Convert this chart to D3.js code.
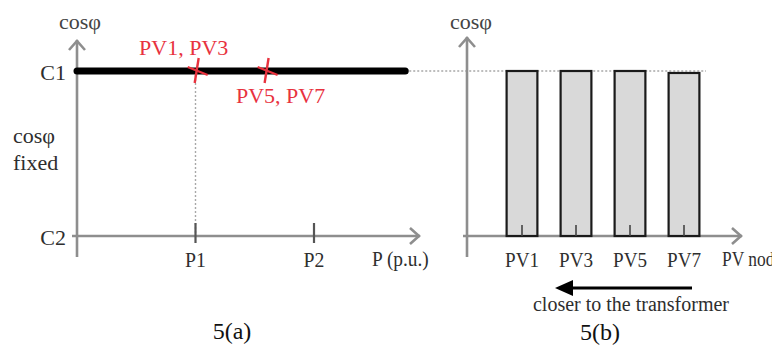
<!DOCTYPE html>
<html>
<head>
<meta charset="utf-8">
<script src="https://cdn.jsdelivr.net/npm/d3@7"></script>
<style>
  html, body { margin: 0; padding: 0; background: #fff; }
  svg { display: block; }
  text { font-family: "Liberation Serif", "Times New Roman", serif; }
</style>
</head>
<body>
<svg id="chart" width="772" height="347"></svg>
<script>
// ---- data ----
// Panel (a): fixed power factor versus active power (p.u.)
const pTicks = [1, 2];
const pTickLabels = ["P1", "P2"];
const cosLevels = [1, 0];            // C1 (top), C2 (bottom)
const cosLabels = ["C1", "C2"];
const fixedLineP = [0, 2.77];        // extent of the constant cosφ = C1 line
const markerP = [1.01, 1.6];         // operating points of the PV groups
const markerLabels = ["PV1, PV3", "PV5, PV7"];

// Panel (b): power factor at each PV node
const pvNodes = ["PV1", "PV3", "PV5", "PV7"];
const pvCos = [1, 1, 1, 0.988];

// ---- layout ----
const svg = d3.select("#chart");
const axisColor = "#8e8e8e";
const textColor = "#2e2e2e";
const red = "#e8323e";
const baseY = 236, topY = 71;

const y = d3.scaleLinear().domain([0, 1]).range([baseY, topY]);
const xA = d3.scaleLinear().domain([0, 2]).range([77, 314]);
const xB = d3.scaleBand().domain(pvNodes).range([495, 711])
  .paddingInner(0.43).paddingOuter(0.215);

// text helper: narrow serif labels are drawn with a horizontal squeeze
function label(g, x, yy, txt, opts = {}) {
  const { size = 22, anchor = "start", sx = 1, fill = textColor } = opts;
  return g.append("text")
    .attr("transform", `translate(${x},${yy}) scale(${sx},1)`)
    .attr("text-anchor", anchor).attr("font-size", size).attr("fill", fill)
    .text(txt);
}

function arrowAxis(g, x1, y1, x2, y2, dir) {
  g.append("line").attr("x1", x1).attr("y1", y1).attr("x2", x2).attr("y2", y2)
    .attr("stroke", axisColor).attr("stroke-width", 2.6);
  const pts = dir === "up"
    ? [[x2 - 8, y2 + 10], [x2, y2 + 1], [x2 + 8, y2 + 10]]
    : [[x2 - 10, y2 - 8], [x2 - 1, y2], [x2 - 10, y2 + 8]];
  g.append("polyline").attr("points", pts.map(p => p.join(",")).join(" "))
    .attr("fill", "none").attr("stroke", axisColor).attr("stroke-width", 2.6);
}

// ---------- panel (a) ----------
const gA = svg.append("g");

// dotted guides: continuation of C1 and the P1 drop line
gA.append("line")
  .attr("x1", xA(fixedLineP[1])).attr("x2", 706)
  .attr("y1", y(1)).attr("y2", y(1))
  .attr("stroke", "#a8a8a8").attr("stroke-width", 1.4).attr("stroke-dasharray", "2,2");
gA.append("line")
  .attr("x1", xA(pTicks[0])).attr("x2", xA(pTicks[0]))
  .attr("y1", y(1) + 4).attr("y2", baseY)
  .attr("stroke", "#a8a8a8").attr("stroke-width", 1.4).attr("stroke-dasharray", "2,2");

arrowAxis(gA, 77, 257, 77, 40, "up");
arrowAxis(gA, 72, baseY, 420, baseY, "right");

// ticks on P axis
gA.selectAll(".ptick").data(pTicks).join("line")
  .attr("x1", d => xA(d)).attr("x2", d => xA(d))
  .attr("y1", baseY - 13).attr("y2", baseY + 7)
  .attr("stroke", "#555").attr("stroke-width", 2.2);
pTicks.forEach((d, i) => label(gA, xA(d), 267, pTickLabels[i], { anchor: "middle", sx: 0.9 }));
label(gA, 372, 266, "P (p.u.)", { sx: 0.88 });

// cosφ levels
cosLevels.forEach((d, i) => label(gA, 66, y(d) + 9, cosLabels[i], { anchor: "end" }));
label(gA, 80, 29, "cosφ", { anchor: "middle", fill: "#444" });
label(gA, 13, 143, "cosφ");
label(gA, 13, 170, "fixed");

// constant power factor line
gA.append("line")
  .attr("x1", xA(fixedLineP[0])).attr("x2", xA(fixedLineP[1]))
  .attr("y1", y(1)).attr("y2", y(1))
  .attr("stroke", "#000").attr("stroke-width", 7).attr("stroke-linecap", "round");

// operating point markers
const marks = gA.selectAll(".mk").data(markerP).join("g")
  .attr("transform", d => `translate(${xA(d)},${y(1)})`);
marks.append("line").attr("x1", 2).attr("y1", -13).attr("x2", -2).attr("y2", 12)
  .attr("stroke", red).attr("stroke-width", 2.4);
marks.append("line").attr("x1", -9).attr("y1", -4).attr("x2", 11).attr("y2", 4)
  .attr("stroke", red).attr("stroke-width", 2.4);
markerP.forEach((d, i) => label(gA, xA(d) + (i === 0 ? -13 : 14), i === 0 ? 55 : 103,
  markerLabels[i], { anchor: "middle", fill: red }));

label(gA, 232, 339, "5(a)", { size: 24, anchor: "middle", fill: "#111" });

// ---------- panel (b) ----------
const gB = svg.append("g");
arrowAxis(gB, 467, 257, 467, 37, "up");
arrowAxis(gB, 463, baseY, 742, baseY, "right");

gB.selectAll(".bar").data(pvNodes).join("rect")
  .attr("x", d => xB(d)).attr("width", xB.bandwidth())
  .attr("y", (d, i) => y(pvCos[i])).attr("height", (d, i) => baseY - y(pvCos[i]))
  .attr("fill", "#d9d9d9").attr("stroke", "#1a1a1a").attr("stroke-width", 2.2);
gB.selectAll(".btick").data(pvNodes).join("line")
  .attr("x1", d => xB(d) + xB.bandwidth() / 2).attr("x2", d => xB(d) + xB.bandwidth() / 2)
  .attr("y1", baseY - 11).attr("y2", baseY)
  .attr("stroke", "#444").attr("stroke-width", 1.6);
pvNodes.forEach(d => label(gB, xB(d) + xB.bandwidth() / 2, 267, d, { anchor: "middle", sx: 0.87 }));
label(gB, 722, 266, "PV nodes", { size: 20, sx: 0.87 });
label(gB, 471, 29, "cosφ", { anchor: "middle", fill: "#444" });

// direction arrow toward the transformer
gB.append("line").attr("x1", 692).attr("x2", 566).attr("y1", 288).attr("y2", 288)
  .attr("stroke", "#000").attr("stroke-width", 3.2);
gB.append("polygon").attr("points", "555,288 573,280 573,296").attr("fill", "#000");
label(gB, 631, 311, "closer to the transformer", { size: 20, anchor: "middle" });

label(gB, 600, 340, "5(b)", { size: 24, anchor: "middle", fill: "#111" });
</script>
</body>
</html>
